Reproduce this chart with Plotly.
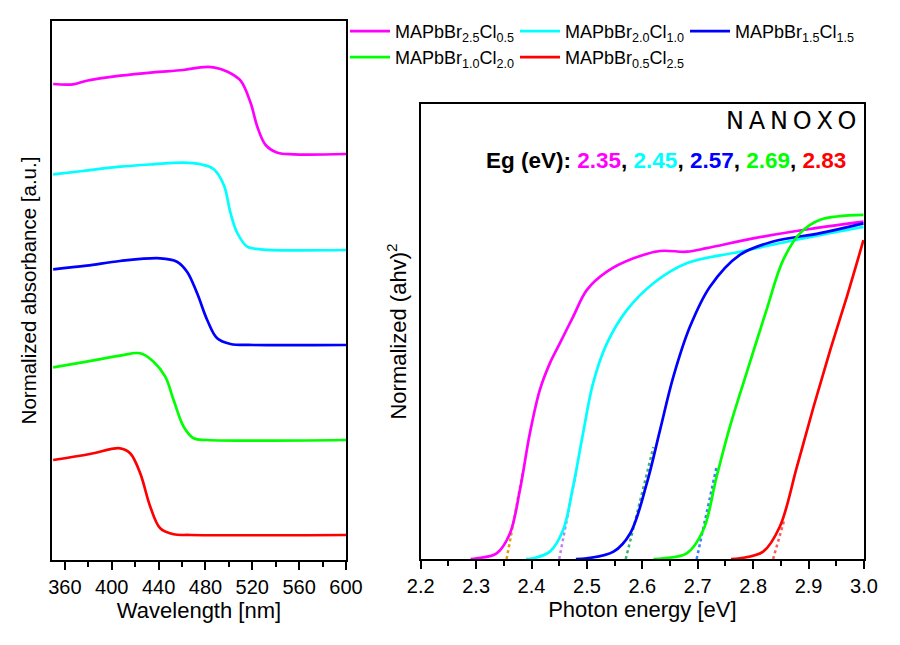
import plotly.graph_objects as go

names = ["MAPbBr<sub>2.5</sub>Cl<sub>0.5</sub>", "MAPbBr<sub>2.0</sub>Cl<sub>1.0</sub>",
         "MAPbBr<sub>1.5</sub>Cl<sub>1.5</sub>", "MAPbBr<sub>1.0</sub>Cl<sub>2.0</sub>",
         "MAPbBr<sub>0.5</sub>Cl<sub>2.5</sub>"]
colors = ["#ff00ff", "#00ffff", "#0000ff", "#00ff00", "#ff0000"]
legend_rows = ["legend", "legend", "legend", "legend2", "legend2"]

# Left panel: absorbance spectra (stacked, a.u.)
wl_1 = [350, 366.9, 378.6, 407.1, 435.4, 461.1, 475.7, 486.9, 498.9, 510.0, 518.6, 524.3, 531.4, 541.5, 555.4, 600]
ab_1 = [4.76, 4.757, 4.793, 4.843, 4.877, 4.90, 4.927, 4.927, 4.883, 4.793, 4.57, 4.333, 4.15, 4.073, 4.057, 4.06]
wl_2 = [350, 375.4, 407.1, 435.4, 461.1, 475.7, 486.9, 495.7, 501.4, 507.2, 515.7, 527.1, 600]
ab_2 = [3.857, 3.89, 3.933, 3.957, 3.973, 3.957, 3.91, 3.75, 3.47, 3.27, 3.133, 3.107, 3.10]
wl_3 = [350, 378.6, 407.1, 441.4, 455.7, 464.3, 472.9, 481.5, 490.0, 501.4, 521.1, 600]
ab_3 = [2.907, 2.943, 2.99, 3.017, 2.983, 2.883, 2.667, 2.40, 2.217, 2.16, 2.15, 2.15]
wl_4 = [350, 378.6, 407.1, 424.3, 435.7, 445.7, 452.8, 461.4, 470.0, 481.5, 600]
ab_4 = [1.927, 1.983, 2.043, 2.067, 1.983, 1.833, 1.60, 1.333, 1.217, 1.20, 1.20]
wl_5 = [350, 381.4, 407.1, 415.7, 424.3, 432.9, 441.4, 452.8, 467.1, 600]
ab_5 = [1.00, 1.06, 1.117, 1.067, 0.867, 0.533, 0.317, 0.257, 0.25, 0.25]

# Right panel: Tauc plots
e_1 = [2.29, 2.301, 2.337, 2.361, 2.379, 2.397, 2.415, 2.433, 2.451, 2.475, 2.500, 2.536, 2.584, 2.632, 2.680, 2.716, 2.800, 2.890, 2.999]
t_1 = [0, 0.002, 0.016, 0.073, 0.197, 0.359, 0.483, 0.559, 0.616, 0.692, 0.769, 0.821, 0.859, 0.88, 0.878, 0.888, 0.916, 0.94, 0.964]
e_2 = [2.39, 2.403, 2.433, 2.457, 2.475, 2.493, 2.511, 2.536, 2.572, 2.620, 2.680, 2.776, 2.890, 2.999]
t_2 = [0, 0.002, 0.021, 0.083, 0.207, 0.359, 0.502, 0.616, 0.711, 0.788, 0.845, 0.878, 0.916, 0.949]
e_3 = [2.48, 2.500, 2.548, 2.578, 2.608, 2.632, 2.656, 2.686, 2.722, 2.776, 2.836, 2.921, 2.999]
t_3 = [0, 0.002, 0.021, 0.073, 0.216, 0.369, 0.521, 0.664, 0.778, 0.869, 0.907, 0.931, 0.959]
e_4 = [2.62, 2.638, 2.680, 2.710, 2.734, 2.758, 2.788, 2.824, 2.854, 2.885, 2.921, 2.999]
t_4 = [0, 0.002, 0.016, 0.083, 0.235, 0.378, 0.531, 0.711, 0.854, 0.931, 0.969, 0.983]
e_5 = [2.76, 2.776, 2.818, 2.848, 2.879, 2.909, 2.939, 2.969, 2.999]
t_5 = [0, 0.002, 0.021, 0.092, 0.264, 0.435, 0.597, 0.749, 0.911]

# Linear-fit tangent lines (Eg intercept -> end point)
eg_labels = ["2.35", "2.45", "2.57", "2.69", "2.83"]
tan_x0 = [2.355, 2.450, 2.570, 2.698, 2.836]
tan_x1 = [2.385, 2.481, 2.620, 2.734, 2.856]
tan_y1 = [0.254, 0.254, 0.320, 0.264, 0.111]
tan_colors = ["#d9a000", "#c17ff0", "#3cb371", "#3a80ff", "#ff5a5a"]

wls = [wl_1, wl_2, wl_3, wl_4, wl_5]
abs_ = [ab_1, ab_2, ab_3, ab_4, ab_5]
es = [e_1, e_2, e_3, e_4, e_5]
ts = [t_1, t_2, t_3, t_4, t_5]

fig = go.Figure()
for i in range(5):
    fig.add_trace(go.Scatter(x=wls[i], y=abs_[i], mode="lines", name=names[i],
                             line=dict(color=colors[i], width=2.7, shape="spline", smoothing=1.0),
                             xaxis="x", yaxis="y", showlegend=True, legend=legend_rows[i]))
for i in range(5):
    fig.add_trace(go.Scatter(x=[tan_x0[i], tan_x1[i]], y=[0, tan_y1[i]], mode="lines",
                             line=dict(color=tan_colors[i], width=2.5, dash="dot"),
                             xaxis="x2", yaxis="y2", showlegend=False))
for i in range(5):
    fig.add_trace(go.Scatter(x=es[i], y=ts[i], mode="lines", name=names[i],
                             line=dict(color=colors[i], width=2.7, shape="spline", smoothing=1.0),
                             xaxis="x2", yaxis="y2", showlegend=False))

font_family = "Liberation Sans, Arial, sans-serif"
axis_common = dict(showline=True, linecolor="black", linewidth=2, mirror=True,
                   showgrid=False, zeroline=False, automargin=False)
legend_common = dict(orientation="h", x=345/900, xanchor="left", yanchor="top",
                     entrywidth=115, font=dict(size=18), bgcolor="rgba(0,0,0,0)",
                     itemwidth=40)

fig.update_layout(
    width=900, height=645,
    margin=dict(l=0, r=0, t=0, b=0, autoexpand=False),
    paper_bgcolor="white", plot_bgcolor="white",
    font=dict(family=font_family, color="black"),
    xaxis=dict(domain=[52/900, 346/900], range=[349, 600], anchor="y",
               ticks="outside", ticklen=8, tickwidth=2, tickcolor="black",
               tick0=360, dtick=40, tickfont=dict(size=20),
               minor=dict(ticks="outside", ticklen=5, tickwidth=2, tickcolor="black", dtick=20),
               title=dict(text="Wavelength [nm]", font=dict(size=22), standoff=4),
               **axis_common),
    yaxis=dict(domain=[(645-560)/645, (645-21)/645], range=[0, 5.39], anchor="x",
               showticklabels=False, ticks="",
               title=dict(text="Normalized absorbance [a.u.]", font=dict(size=20.5), standoff=8),
               **axis_common),
    xaxis2=dict(domain=[420.7/900, 864/900], range=[2.2, 3.0], anchor="y2",
                ticks="outside", ticklen=8, tickwidth=2, tickcolor="black",
                tick0=2.2, dtick=0.1, tickformat=".1f", tickfont=dict(size=20),
                minor=dict(ticks="outside", ticklen=5, tickwidth=2, tickcolor="black", dtick=0.05),
                title=dict(text="Photon energy [eV]", font=dict(size=22), standoff=4),
                **axis_common),
    yaxis2=dict(domain=[(645-559)/645, (645-104)/645], range=[0, 1.3], anchor="x2",
                showticklabels=False, ticks="",
                title=dict(text="Normalized (ahv)<sup>2</sup>", font=dict(size=22), standoff=6),
                **axis_common),
    legend=dict(y=1 - 13/645, **legend_common),
    legend2=dict(y=1 - 39/645, **legend_common),
    showlegend=True,
)

eg_parts = ["<b>Eg (eV): </b>"]
for i in range(5):
    eg_parts.append(f"<b><span style='color:{colors[i]}'>{eg_labels[i]}</span></b>")
    if i < 4:
        eg_parts.append("<b>, </b>")
fig.add_annotation(text="".join(eg_parts), xref="paper", yref="paper",
                   x=848/900, y=1 - 160/645, xanchor="right", yanchor="middle",
                   showarrow=False, font=dict(size=22.5, color="black", family=font_family))

fig.add_annotation(text="N\u2009A\u2009N\u2009O\u2009X\u2009O", xref="paper", yref="paper",
                   x=859/900, y=1 - 121/645, xanchor="right", yanchor="middle",
                   showarrow=False, font=dict(size=24, color="black", family="DejaVu Sans"))

fig.write_html("out.html")
